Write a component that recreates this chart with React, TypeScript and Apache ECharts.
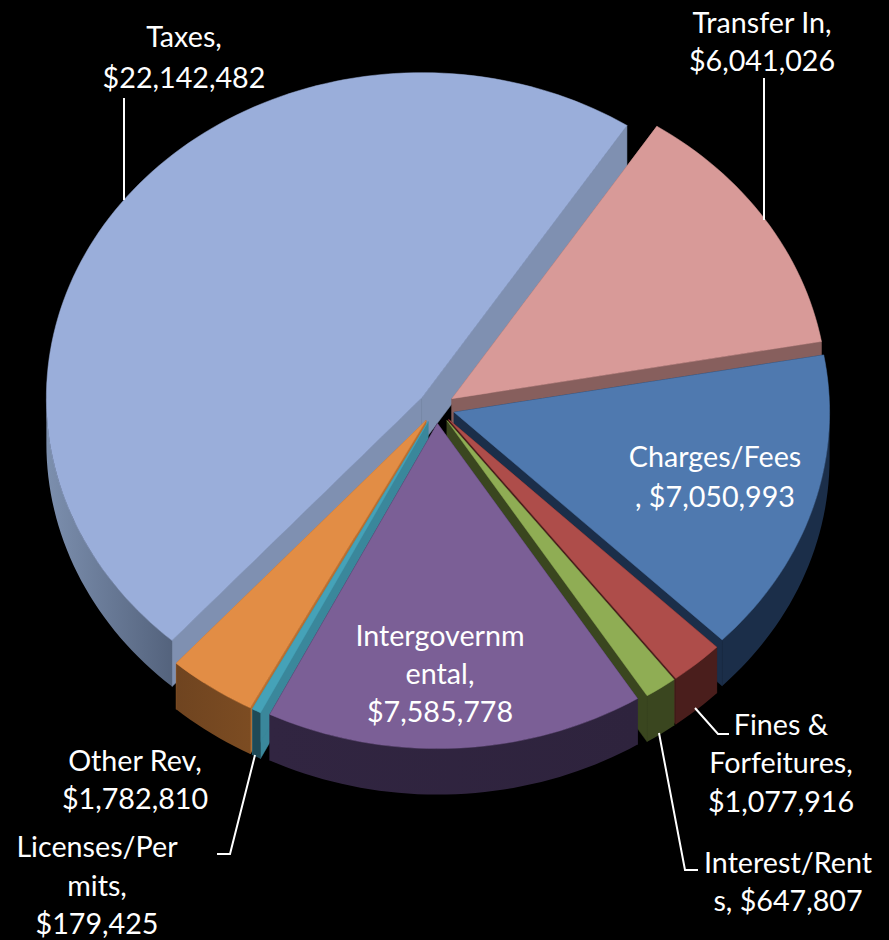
import React, { useEffect, useRef } from "react";
import * as echarts from "echarts";

const categories = ["Transfer In", "Charges/Fees", "Fines & Forfeitures", "Interest/Rents", "Intergovernmental", "Licenses/Permits", "Other Rev", "Taxes"];
const values = [6041026, 7050993, 1077916, 647807, 7585778, 179425, 1782810, 22142482];
const drawOrder = [7, 0, 1, 6, 5, 2, 3, 4];

const topColors = ["#D89A98", "#4F79AF", "#AE4D4A", "#8FAD54", "#7B5F96", "#45A2B8", "#E28D45", "#9AAEDA"];
const radialColors = ["#875F5D", "#1B2E49", "#4A1E1C", "#3A461F", "#312541", "#3A879B", "#B86F30", "#7F90B1"];
const wallLeftColors = ["#6E4A49", "#1B2E49", "#4A1E1C", "#3A461F", "#312541", "#1F4A57", "#6F4420", "#7C8FAE"];
const wallRightColors = ["#6E4A49", "#1B2E49", "#4A1E1C", "#3A461F", "#2E233D", "#1F4A57", "#7C4C22", "#54637D"];

const labelLines = [
  { x: 762, ys: [22, 60], lines: ["Transfer In,", "$6,041,026"] },
  { x: 715, ys: [456, 496], lines: ["Charges/Fees", ", $7,050,993"] },
  { x: 781, ys: [724, 762, 801], lines: ["Fines &", "Forfeitures,", "$1,077,916"] },
  { x: 788, ys: [862, 900], lines: ["Interest/Rent", "s, $647,807"] },
  { x: 440, ys: [635, 673, 711], lines: ["Intergovernm", "ental,", "$7,585,778"] },
  { x: 97, ys: [846, 885, 923], lines: ["Licenses/Per", "mits,", "$179,425"] },
  { x: 135, ys: [760, 798], lines: ["Other Rev,", "$1,782,810"] },
  { x: 184, ys: [36, 77], lines: ["Taxes,", "$22,142,482"] },
];

const leaders = [
  [[764, 78], [764, 220]],
  [[124, 98], [124, 200]],
  [[695, 708], [718, 734], [729, 734]],
  [[659, 733], [685, 870], [698, 870]],
  [[255, 755], [230, 854], [217, 854]],
];

const CX = 436.5, CY = 407.5, RX = 375.5, TILT = 0.866, EXPLODE = 18.4, DEPTH = 46, START_DEG = 33.1;
const total = values.reduce((a, b) => a + b, 0);

function renderSlice(params: any, api: any) {
  const idx = api.value(0);
  let before = 0;
  for (let i = 0; i < idx; i++) before += values[i];
  const a0 = START_DEG + (before / total) * 360;
  const a1 = a0 + (api.value(1) / total) * 360;
  const mid = ((a0 + a1) / 2) * Math.PI / 180;
  const tx = CX + EXPLODE * Math.sin(mid);
  const ty = CY - EXPLODE * Math.cos(mid) * TILT;
  const pt = (deg: number, dz = 0): number[] => {
    const r = deg * Math.PI / 180;
    return [tx + RX * Math.sin(r), ty - RX * TILT * Math.cos(r) + dz];
  };
  const sweep = (from: number, to: number, dz: number) => {
    const n = Math.max(2, Math.ceil((to - from) / 1.5));
    const out: number[][] = [];
    for (let i = 0; i <= n; i++) out.push(pt(from + ((to - from) * i) / n, dz));
    return out;
  };
  const arc = sweep(a0, a1, 0);
  const tip = [tx, ty];
  const tipLow = [tx, ty + DEPTH];
  const poly = (points: number[][], fill: any, stroke?: string) => ({
    type: "polygon",
    shape: { points },
    style: { fill, stroke: stroke || "none", lineWidth: stroke ? 0.5 : 0 },
  });
  const children: any[] = [
    poly([tip, pt(a0), pt(a0, DEPTH), tipLow], radialColors[idx], radialColors[idx]),
    poly([tip, pt(a1), pt(a1, DEPTH), tipLow], radialColors[idx], radialColors[idx]),
  ];
  // only the part of the rim that faces the viewer is drawn
  const w0 = Math.max(a0, 90);
  const w1 = Math.min(a1, 270);
  if (w1 > w0) {
    const upper = sweep(w0, w1, 0);
    const lower = sweep(w0, w1, DEPTH);
    children.push(
      poly([...upper, ...lower.reverse()], new echarts.graphic.LinearGradient(0, 0, 1, 0, [
        { offset: 0, color: wallLeftColors[idx] },
        { offset: 1, color: wallRightColors[idx] },
      ]))
    );
  }
  children.push(poly([tip, ...arc], topColors[idx], topColors[idx]));
  return { type: "group", children };
}

export default function App() {
  const ref = useRef<HTMLDivElement>(null);
  useEffect(() => {
    document.body.style.margin = "0";
    document.body.style.background = "#000";
    const chart = echarts.init(ref.current!, null, { renderer: "svg" });
    const texts: any[] = [];
    labelLines.forEach((l) =>
      l.lines.forEach((t, i) =>
        texts.push({
          type: "text",
          x: l.x,
          y: l.ys[i],
          z: 10,
          style: { text: t, fill: "#FFFFFF", font: "28.7px Lato", textAlign: "center", textVerticalAlign: "middle" },
        })
      )
    );
    const lines = leaders.map((pts) => ({
      type: "polyline",
      z: 9,
      shape: { points: pts },
      style: { stroke: "#FFFFFF", lineWidth: 2, fill: "none" },
    }));
    chart.setOption({
      animation: false,
      backgroundColor: "#000000",
      series: [
        {
          type: "custom",
          coordinateSystem: "none",
          name: "Revenue",
          data: drawOrder.map((i) => ({ name: categories[i], value: [i, values[i]] })),
          renderItem: renderSlice,
          silent: true,
        },
      ],
      graphic: [...lines, ...texts],
    });
    return () => chart.dispose();
  }, []);
  return <div ref={ref} style={{ width: 889, height: 940 }} />;
}
